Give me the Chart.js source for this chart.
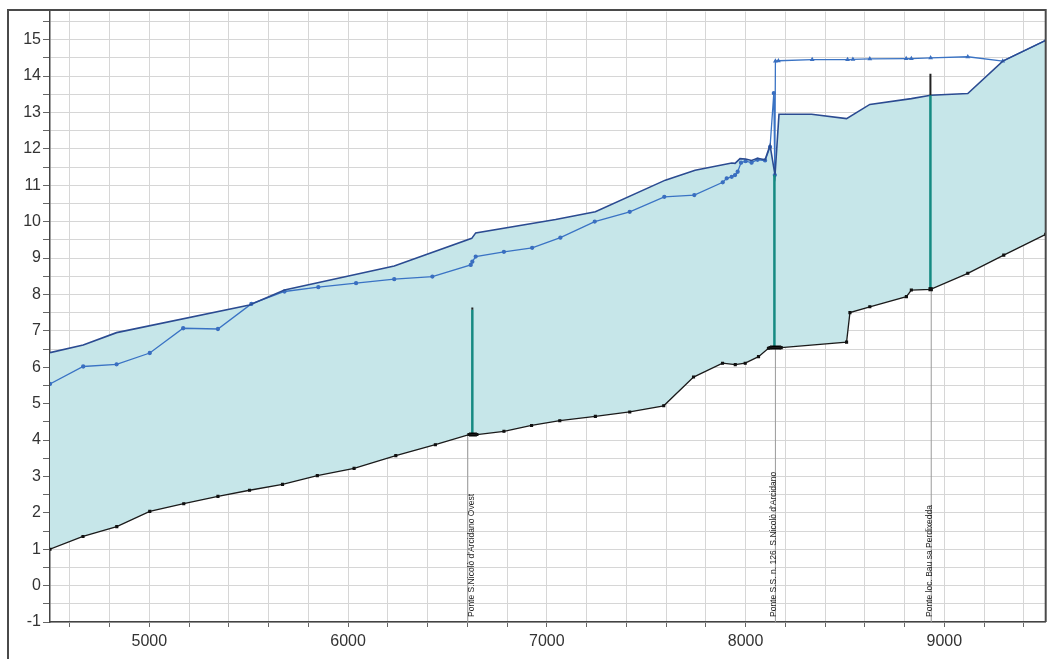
<!DOCTYPE html>
<html>
<head>
<meta charset="utf-8">
<script src="https://cdn.jsdelivr.net/npm/chart.js@4.4.1/dist/chart.umd.min.js"></script>
<style>
  html, body { margin: 0; padding: 0; background: #fff; }
</style>
</head>
<body>
<canvas id="profile" width="1051" height="659"></canvas>
<script>
// thalweg / ground profile
const bedX = [4500, 4666, 4836, 5002, 5173, 5345, 5504, 5670, 5845, 6030, 6240, 6439, 6608, 6648, 6784, 6923, 7065, 7244, 7417, 7588, 7738, 7884, 7948, 7998, 8065, 8115, 8123, 8179, 8508, 8525, 8625, 8809, 8834, 8931, 9118, 9299, 9510];
const bedY = [1.0, 1.35, 1.62, 2.04, 2.25, 2.45, 2.62, 2.78, 3.02, 3.22, 3.57, 3.87, 4.15, 4.15, 4.24, 4.40, 4.53, 4.65, 4.77, 4.94, 5.73, 6.11, 6.07, 6.11, 6.29, 6.52, 6.54, 6.54, 6.69, 7.50, 7.66, 7.94, 8.12, 8.14, 8.58, 9.08, 9.65];

// upper water surface (filled down to the bed)
const wsTopX = [4500, 4667, 4835, 5504, 5680, 6232, 6622, 6642, 7044, 7244, 7596, 7746, 7930, 7947, 7972, 8000, 8030, 8060, 8098, 8123, 8148, 8168, 8332, 8508, 8625, 8834, 8931, 9118, 9294, 9510];
const wsTopY = [6.40, 6.61, 6.95, 7.71, 8.12, 8.78, 9.54, 9.69, 10.06, 10.27, 11.14, 11.41, 11.61, 11.60, 11.73, 11.72, 11.68, 11.74, 11.70, 12.10, 11.28, 12.95, 12.95, 12.83, 13.22, 13.38, 13.47, 13.52, 14.41, 14.98];

// second water surface profile (with markers)
const wsLowX = [4500, 4667, 4835, 5002, 5170, 5345, 5513, 5680, 5850, 6040, 6232, 6424, 6617, 6625, 6642, 6784, 6926, 7068, 7241, 7417, 7591, 7742, 7885, 7905, 7930, 7947, 7960, 7977, 8000, 8030, 8060, 8098, 8123, 8142, 8147, 8150, 8165, 8335, 8513, 8540, 8625, 8808, 8834, 8931, 9118, 9294, 9510];
const wsLowY = [5.54, 6.02, 6.08, 6.39, 7.07, 7.05, 7.74, 8.08, 8.20, 8.31, 8.42, 8.49, 8.81, 8.90, 9.04, 9.17, 9.28, 9.56, 10.00, 10.27, 10.68, 10.73, 11.08, 11.19, 11.23, 11.28, 11.37, 11.62, 11.66, 11.62, 11.70, 11.68, 12.05, 13.53, 11.28, 14.41, 14.42, 14.45, 14.45, 14.46, 14.47, 14.48, 14.48, 14.50, 14.53, 14.41, 14.98];

// bridges
const bridgeNames = ["Ponte S.Nicolò d'Arcidano Ovest", "Ponte S.S. n. 126  S.Nicolò d'Arcidano", "Ponte loc. Bau sa Perdixedda"];
const bridgeX = [6625, 8145, 8930];
const markX = [6602, 8150, 8934];
const bridgeBedY = [4.15, 6.54, 8.14];
const bridgeTopY = [7.58, 11.28, 13.47];
const bridgeCapY = [7.64, 11.28, 14.06];
const deckFromX = [6608, 8123, 8920];
const deckToX = [6648, 8179, 8942];

const xLabels = [5000, 6000, 7000, 8000, 9000];
const yLabels = [-1, 0, 1, 2, 3, 4, 5, 6, 7, 8, 9, 10, 11, 12, 13, 14, 15];

const fillColor = 'rgb(198, 230, 233)';
const font = '"Liberation Sans", Arial, sans-serif';

function pts(xs, ys) {
  return xs.map((x, i) => ({ x: x, y: ys[i] }));
}

function seg(x1, y1, x2, y2, color, width) {
  return {
    data: [{ x: x1, y: y1 }, { x: x2, y: y2 }],
    borderColor: color,
    borderWidth: width,
    pointRadius: 0,
    fill: false
  };
}

const datasets = [];
datasets.push({
  label: 'Fondo',
  data: pts(bedX, bedY),
  borderColor: '#1b1b1b',
  borderWidth: 1.3,
  pointRadius: 1.3,
  pointStyle: 'rect',
  pointBackgroundColor: '#111',
  pointBorderColor: '#111',
  fill: false
});
bridgeX.forEach((bx, i) => {
  datasets.push(seg(deckFromX[i], bridgeBedY[i], deckToX[i], bridgeBedY[i], '#000', 4));
  datasets.push(seg(bx, bridgeTopY[i], bx, bridgeCapY[i], '#222', 2));
  datasets.push(seg(bx, bridgeBedY[i], bx, bridgeTopY[i], '#158a82', 2.5));
});
datasets.push({
  label: 'WS max',
  data: pts(wsTopX, wsTopY),
  borderColor: '#2b4b91',
  borderWidth: 1.6,
  pointRadius: 0,
  fill: { target: 0, above: fillColor, below: fillColor }
});
datasets.push({
  label: 'WS',
  data: pts(wsLowX, wsLowY),
  borderColor: '#3a73c4',
  borderWidth: 1.3,
  pointRadius: 1.5,
  pointStyle: ctx => (ctx.raw && ctx.raw.x >= 8150 ? 'triangle' : 'circle'),
  pointBackgroundColor: '#3a6fc0',
  pointBorderColor: '#3a6fc0',
  fill: false
});
markX.forEach((mx, i) => {
  datasets.push(seg(mx, -1, mx, bridgeBedY[i], '#9a9a9a', 1));
});

const framePlugin = {
  id: 'frame',
  afterDraw(chart) {
    const { ctx, chartArea: a, scales } = chart;
    ctx.save();
    ctx.strokeStyle = '#4a4a4a';
    ctx.lineWidth = 2;
    ctx.beginPath();
    ctx.moveTo(8, 659);
    ctx.lineTo(8, 10);
    ctx.lineTo(a.right, 10);
    ctx.lineTo(a.right, a.bottom);
    ctx.stroke();

    ctx.font = '8.5px ' + font;
    ctx.fillStyle = '#222';
    ctx.textAlign = 'left';
    ctx.textBaseline = 'middle';
    bridgeNames.forEach((name, i) => {
      const px = scales.x.getPixelForValue(bridgeX[i]) - 1;
      ctx.save();
      ctx.translate(px, a.bottom - 5);
      ctx.rotate(-Math.PI / 2);
      ctx.fillText(name, 0, 0);
      ctx.restore();
    });
    ctx.restore();
  }
};

new Chart(document.getElementById('profile'), {
  type: 'line',
  data: { datasets: datasets },
  options: {
    responsive: false,
    animation: false,
    layout: { padding: { left: 0, top: 11, right: 3, bottom: 0 } },
    elements: { line: { tension: 0 } },
    plugins: {
      legend: { display: false },
      tooltip: { enabled: false },
      filler: { drawTime: 'beforeDatasetsDraw' }
    },
    scales: {
      x: {
        type: 'linear',
        min: 4500,
        max: 9510,
        afterFit: s => { s.height = 37; },
        afterBuildTicks: s => {
          const t = [];
          for (let v = 4600; v <= 9400; v += 200) t.push({ value: v });
          s.ticks = t;
        },
        grid: { color: '#d6d6d6', lineWidth: 1, tickLength: 5, tickColor: '#666' },
        border: { display: true, color: '#444', width: 1.5 },
        ticks: {
          autoSkip: false,
          maxRotation: 0,
          padding: 5,
          color: '#333',
          font: { family: font, size: 16 },
          callback: v => (xLabels.includes(v) ? String(v) : '')
        }
      },
      y: {
        type: 'linear',
        min: -1,
        max: 15.77,
        afterFit: s => { s.width = 50; },
        afterBuildTicks: s => {
          const t = [];
          for (let v = -1; v <= 15.5; v += 0.5) t.push({ value: v });
          s.ticks = t;
        },
        grid: { color: '#d6d6d6', lineWidth: 1, tickLength: 7, tickColor: '#666' },
        border: { display: true, color: '#444', width: 1.5 },
        ticks: {
          autoSkip: false,
          padding: 2,
          color: '#333',
          font: { family: font, size: 16 },
          callback: v => (yLabels.includes(v) ? String(v) : '')
        }
      }
    }
  },
  plugins: [framePlugin]
});
</script>
</body>
</html>
